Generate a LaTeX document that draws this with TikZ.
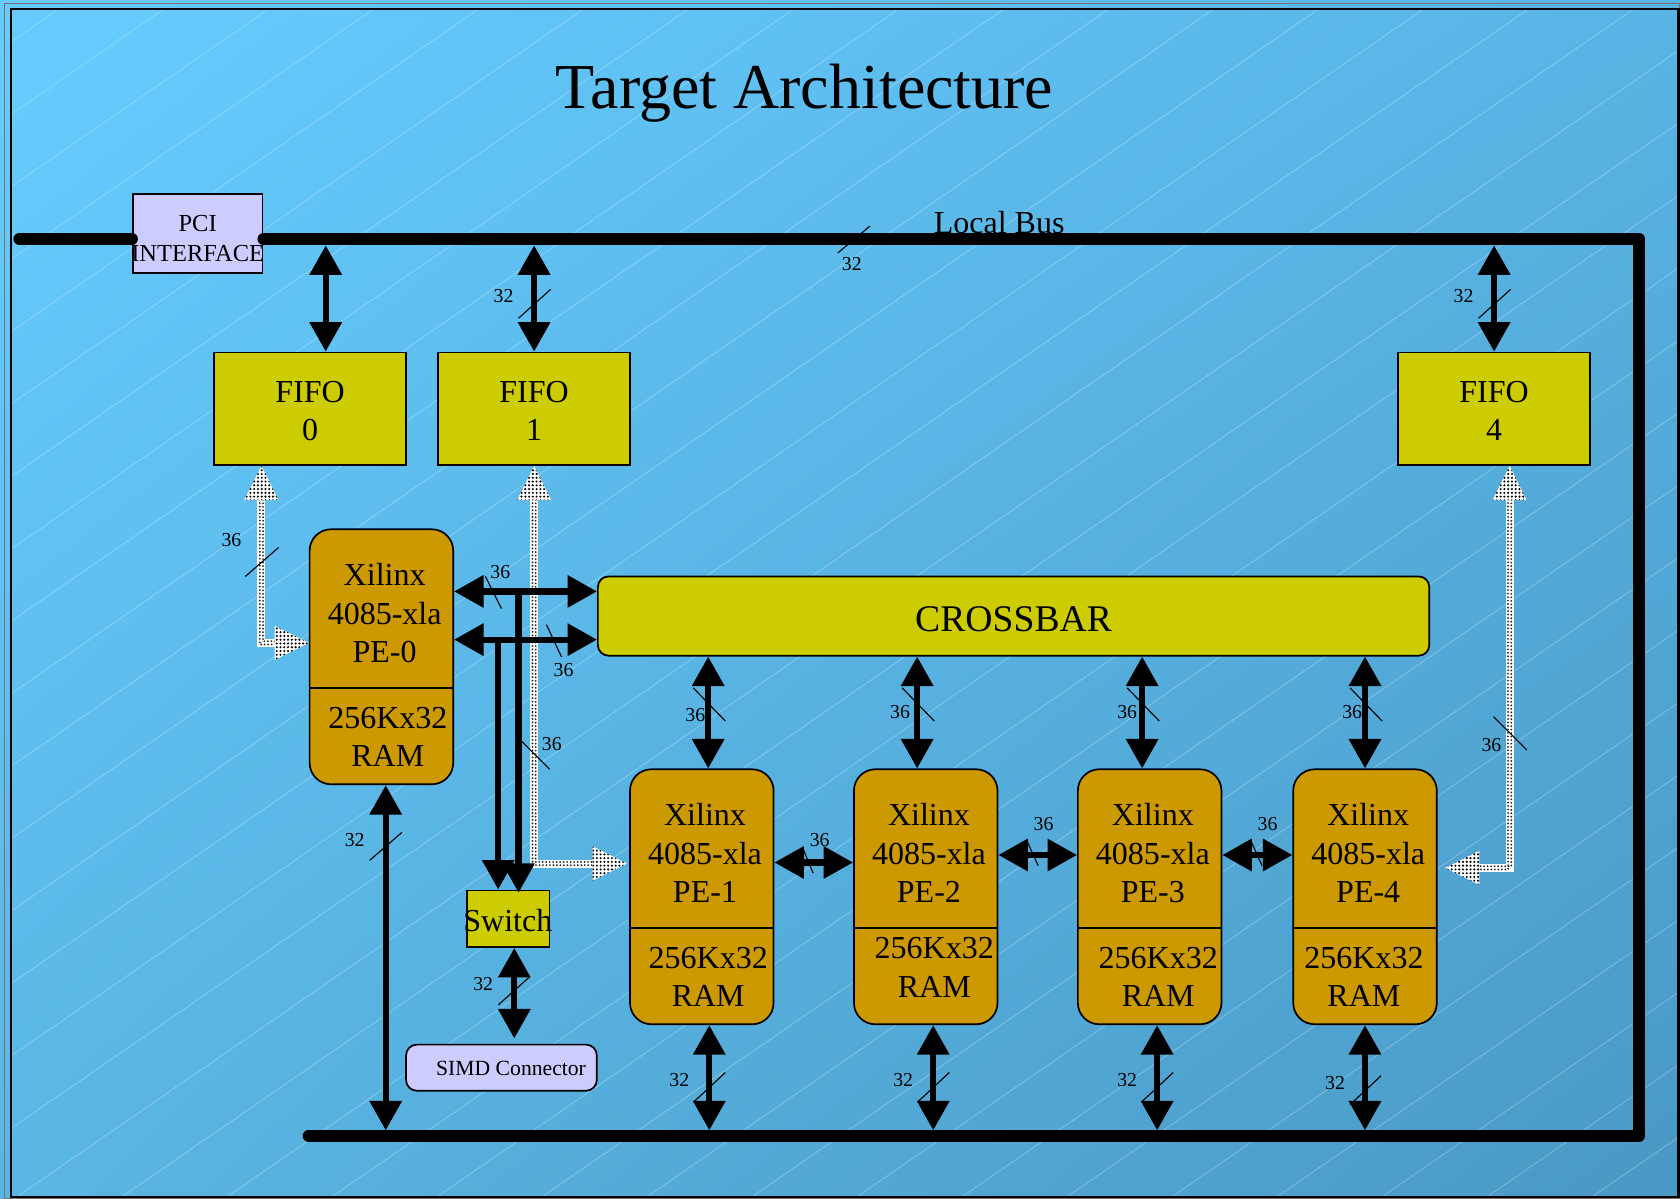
\documentclass[tikz,border=0pt]{standalone}
\usepackage{fontspec}
\setmainfont{Liberation Serif}
\usetikzlibrary{arrows.meta,calc,patterns,shadings}

\definecolor{fifoyellow}{RGB}{204,204,0}
\definecolor{pegold}{RGB}{204,153,0}
\definecolor{lilac}{RGB}{204,204,255}
\definecolor{skytl}{RGB}{102,204,255}
\definecolor{skytr}{RGB}{88,180,228}
\definecolor{skybl}{RGB}{90,182,228}
\definecolor{skybr}{RGB}{74,152,196}

\pgfdeclarepatternformonly{speckle}{\pgfpoint{-0.1pt}{-0.1pt}}{\pgfpoint{2.1pt}{2.1pt}}{\pgfpoint{2pt}{2pt}}%
  {\pgfpathcircle{\pgfpoint{1pt}{1pt}}{0.62pt}\pgfusepath{fill}}

\tikzset{
  >={Triangle[width=5.8mm,length=5.5mm]},
  bigtext/.style={font=\fontsize{17}{20.5}\selectfont, align=center, inner sep=0pt},
  smalltext/.style={font=\fontsize{13}{16}\selectfont, align=center, inner sep=0pt},
  simdtext/.style={font=\fontsize{11.5}{14}\selectfont, inner sep=0pt},
  titletext/.style={font=\fontsize{34}{40}\selectfont, inner sep=0pt},
  widthlabel/.style={font=\fontsize{10.5}{12}\selectfont, inner sep=0pt},
  fifo/.style={draw, line width=0.9pt, fill=fifoyellow, minimum width=35.8mm, minimum height=21mm, inner sep=0pt},
  swbox/.style={draw, line width=0.9pt, fill=fifoyellow, minimum width=15.4mm, minimum height=10.6mm, inner sep=0pt},
  crossbar/.style={draw, line width=0.9pt, fill=fifoyellow, rounded corners=2mm, minimum width=155.2mm, minimum height=14.8mm, inner sep=0pt},
  pebox/.style={draw, line width=0.9pt, fill=pegold, rounded corners=4mm, minimum width=26.8mm, minimum height=47.6mm, inner sep=0pt},
  lilacbox/.style={draw, line width=0.9pt, fill=lilac, inner sep=0pt},
  bus/.style={line width=2.2mm, line cap=round, line join=round},
  buslink/.style={<->, line width=1.15mm},
  feed/.style={->, line width=1.15mm},
  widthtick/.style={line width=0.6pt},
  sheen/.style={white, opacity=0.3, line width=0.4pt},
  dotflow/.style={line width=1.5mm, white,
    postaction={draw=black!85, line width=0.38mm, line cap=round, dash pattern=on 0pt off 0.65mm, transform canvas={shift={(0.3mm,0.3mm)}}},
    postaction={draw=black!85, line width=0.38mm, line cap=round, dash pattern=on 0pt off 0.65mm, transform canvas={shift={(-0.3mm,-0.3mm)}}}},
  dothead/.pic={\path[preaction={fill=white}, pattern=speckle] (0,0) -- (-16,32) -- (16,32) -- cycle;}
}

\begin{document}
\begin{tikzpicture}[x=0.2mm, y=-0.2mm]
\useasboundingbox (0,0) rectangle (1568,1119);

% background and frame
\shade[upper left=skytl, upper right=skytr, lower left=skybl, lower right=skybr] (0,0) rectangle (1568,1119);
\begin{scope}
\clip (10,8) rectangle (1567,1118);
\foreach \s in {-1653,-1555,...,1560}
  \draw[sheen] (\s,1119) -- ++(1622,-1119);
\end{scope}
\draw[black!55, line width=0.6pt] (4.5,3) rectangle (1567.5,1118.5);
\draw[line width=1.2pt] (10.3,8.4) rectangle (1566.5,1117.5);

% texts
\node[titletext, anchor=base] (title) at (751,101) {Target Architecture};
\node[bigtext, anchor=base] (localbus) at (932.5,218) {Local Bus};

% blocks
\node[lilacbox, minimum width=24.2mm, minimum height=14.8mm] (pci) at (184.5,218) {};
\node[smalltext] (pcitext) at (184.5,223) {PCI\\INTERFACE};

\node[fifo] (fifo0) at (289.5,381.5) {};
\node[fifo] (fifo1) at (498.5,381.5) {};
\node[fifo] (fifo4) at (1394.5,381.5) {};
\foreach \f in {0,1,4}
  \node[bigtext] (fifo\f text) at ($(fifo\f)+(0,2)$) {FIFO\\\f};

\node[crossbar] (xbar) at (946,575) {};
\node[font=\fontsize{20}{24}\selectfont, inner sep=0pt] (xbartext) at (946,578) {CROSSBAR};

\foreach \n/\cx/\cy/\dx/\dy in {0/356/613/6/194.5, 1/655/837/6/194.5, 2/864/837/8/185.5, 3/1073/837/8/194.5, 4/1274/837/-1/194.5}{
  \node[pebox] (pe\n) at (\cx,\cy) {};
  \draw[line width=0.9pt] ($(pe\n.north west)+(0,149)$) -- ($(pe\n.north east)+(0,149)$);
  \node[bigtext] (xil\n) at ($(pe\n.north)+(3,79)$) {Xilinx\\4085-xla\\PE-\n};
  \node[bigtext] (ram\n) at ($(pe\n.north)+(\dx,\dy)$) {256Kx32\\RAM};
}

\node[swbox] (sw) at (474.5,857.5) {};
\node[bigtext] (swtext) at (474,859) {Switch};
\node[lilacbox, rounded corners=2mm, minimum width=35.6mm, minimum height=8.6mm] (simd) at (468,996.5) {};
\node[simdtext] (simdtext) at (477,997) {SIMD Connector};

% local bus
\coordinate (busL) at (18,223);
\coordinate (busTR) at (1530,223);
\coordinate (busBR) at (1530,1060);
\coordinate (busBL) at (288,1060);
\draw[bus] (busL) -- (pci.west |- busL);
\draw[bus] (pci.east |- busL) -- (busTR) -- (busBR) -- (busBL);

% dotted fifo paths
\draw[dotflow] ($(fifo0.south)+(-45.5,30)$) |- ($(pe0.west)+(-30,-13)$);
\pic at ($(fifo0.south)+(-45.5,0)$) {dothead};
\pic[rotate=-90] at ($(pe0.west)+(0,-13)$) {dothead};

\draw[dotflow] ($(fifo1.south)+(0,30)$) |- ($(pe1.west)+(-32,-31)$);
\pic at (fifo1.south) {dothead};
\pic[rotate=-90] at ($(pe1.west)+(-2,-31)$) {dothead};

\draw[dotflow] ($(fifo4.south)+(14.5,30)$) |- ($(pe4.east)+(37,-27)$);
\pic at ($(fifo4.south)+(14.5,0)$) {dothead};
\pic[rotate=90] at ($(pe4.east)+(7,-27)$) {dothead};

% bus to fifos
\coordinate (tap0) at (304,229);
\coordinate (tap1) at (498.5,229);
\coordinate (tap4) at (1394.5,229);
\draw[buslink] (tap0) -- (tap0 |- fifo0.north);
\draw[buslink] (tap1) -- (tap1 |- fifo1.north);
\draw[buslink] (tap4) -- (tap4 |- fifo4.north);

% pe0 to crossbar and switch
\coordinate (row1) at (0,552);
\coordinate (row2) at (0,597);
\draw[buslink] (pe0.east |- row1) -- (xbar.west |- row1);
\draw[buslink] (pe0.east |- row2) -- (xbar.west |- row2);
\coordinate (drop1) at (484,552);
\coordinate (drop2) at (465,597);
\draw[feed] (drop2) -- (drop2 |- sw.north);
\draw[feed] (drop1) -- ($(drop1 |- sw.north)+(0,3)$);

% crossbar to pes
\foreach \n/\kx in {1/661, 2/856, 3/1066, 4/1274}{
  \coordinate (col\n) at (\kx,0);
  \draw[buslink] (xbar.south -| col\n) -- (pe\n.north -| col\n);
}

% pe to pe
\coordinate (row3) at (0,805);
\coordinate (row4) at (0,798);
\draw[buslink] (pe1.east |- row3) -- (pe2.west |- row3);
\draw[buslink] (pe2.east |- row4) -- (pe3.west |- row4);
\draw[buslink] (pe3.east |- row4) -- (pe4.west |- row4);

% pes to lower bus
\foreach \n/\mx in {0/360, 1/662, 2/871, 3/1080, 4/1274}{
  \coordinate (tapb\n) at (\mx,1055);
  \draw[buslink] (pe\n.south -| tapb\n) -- (tapb\n);
}

% switch to simd
\coordinate (simdcol) at (480,0);
\draw[buslink] (sw.south -| simdcol) -- ($(simd.north -| simdcol)+(0,-5)$);

% bus widths
\foreach \xa/\ya/\xb/\yb/\lx/\ly/\w [count=\i] in {
  782/236/812/211/795/246/32, 484/297/514/270/470/276/32, 1380/297/1410/270/1366/276/32,
  229/538/260/511/216/504/36, 453/538/468/568/467/534/36, 510/583/524/613/526/625/36,
  486/691/513/718/515/694/36, 647/642/677/673/649/667/36, 842/642/872/673/840/665/36,
  1052/642/1082/673/1052/665/36, 1260/642/1290/673/1262/665/36, 1394/669/1425/700/1392/695/36,
  749/791/759/815/765/784/36, 959/786/969/808/974/769/36, 1168/786/1178/808/1183/769/36,
  648/1028/677/1001/634/1008/32, 857/1028/886/1001/843/1008/32, 1066/1028/1095/1001/1052/1008/32,
  1260/1031/1289/1004/1246/1011/32, 345/803/375/777/331/784/32, 465/938/494/912/451/918/32}{
  \draw[widthtick] (\xa,\ya) -- (\xb,\yb);
  \node[widthlabel] (width\i) at (\lx,\ly) {\w};
}

\end{tikzpicture}
\end{document}
